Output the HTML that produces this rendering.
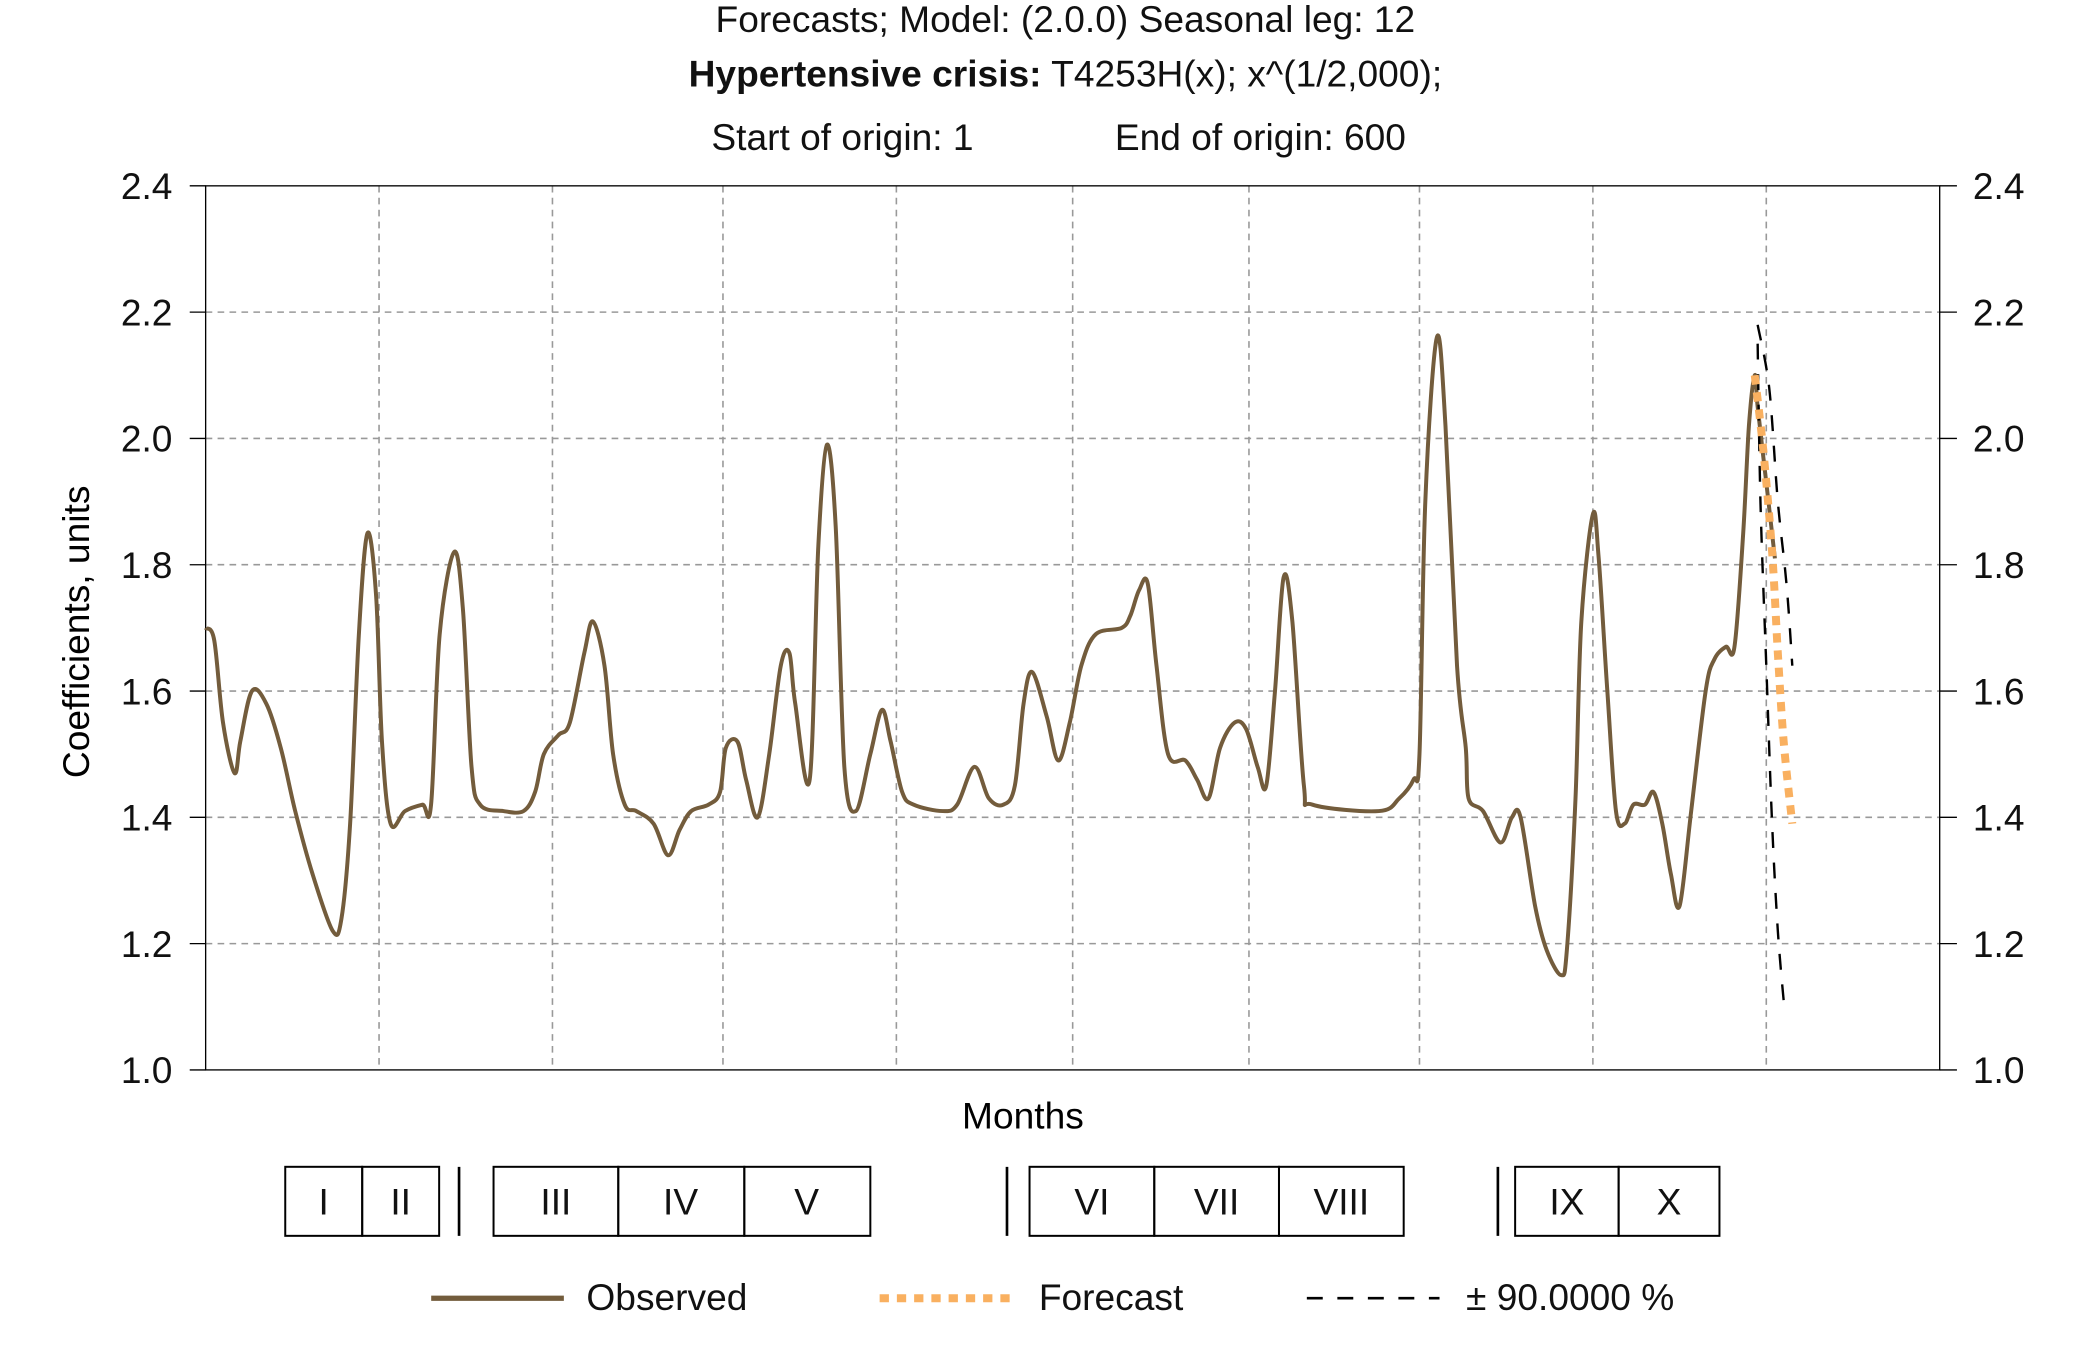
<!DOCTYPE html>
<html><head><meta charset="utf-8">
<style>
html,body{margin:0;padding:0;background:#fff;}
svg{display:block;font-family:"Liberation Sans",sans-serif;}
</style></head>
<body>
<svg id="chart" width="2079" height="1350" viewBox="0 0 1567 1017" preserveAspectRatio="none" xmlns="http://www.w3.org/2000/svg">
  <g font-size="28" text-anchor="middle" fill="#111">
    <text x="803" y="24">Forecasts; Model: (2.0.0) Seasonal leg: 12</text>
    <text x="803" y="65"><tspan font-weight="bold">Hypertensive crisis:</tspan> T4253H(x); x^(1/2,000);</text>
    <text x="635" y="113">Start of origin: 1</text>
    <text x="950" y="113">End of origin: 600</text>
  </g>
  <g id="grid"></g>
  <g id="axes"></g>
  <g id="series"></g>
  <text x="0" y="0" font-size="28" text-anchor="middle" transform="translate(67,476) rotate(-90)">Coefficients, units</text>
  <text x="771" y="850" font-size="28" text-anchor="middle">Months</text>
  <g font-size="28" text-anchor="middle" fill="none" stroke="#000" stroke-width="1.5">
    <rect x="215" y="879" width="58" height="52"/>
    <rect x="273" y="879" width="58" height="52"/>
    <line x1="346" y1="879" x2="346" y2="931" stroke-width="2"/>
    <rect x="372" y="879" width="94" height="52"/>
    <rect x="466" y="879" width="95" height="52"/>
    <rect x="561" y="879" width="95" height="52"/>
    <line x1="759" y1="879" x2="759" y2="931" stroke-width="2"/>
    <rect x="776" y="879" width="94" height="52"/>
    <rect x="870" y="879" width="94" height="52"/>
    <rect x="964" y="879" width="94" height="52"/>
    <line x1="1129" y1="879" x2="1129" y2="931" stroke-width="2"/>
    <rect x="1142" y="879" width="78" height="52"/>
    <rect x="1220" y="879" width="76" height="52"/>
    <g fill="#111" stroke="none">
      <text x="244" y="915">I</text><text x="302" y="915">II</text>
      <text x="419" y="915">III</text><text x="513" y="915">IV</text><text x="608" y="915">V</text>
      <text x="823" y="915">VI</text><text x="917" y="915">VII</text><text x="1011" y="915">VIII</text>
      <text x="1181" y="915">IX</text><text x="1258" y="915">X</text>
    </g>
  </g>
  <g font-size="28" fill="#111">
    <g>
      <line x1="325" y1="978" x2="425" y2="978" stroke="#735c3c" stroke-width="4"/>
      <text x="442" y="987">Observed</text>
    </g>
    <g>
      <line x1="663" y1="978" x2="765" y2="978" stroke="#f9b060" stroke-width="6" stroke-dasharray="7,6"/>
      <text x="783" y="987">Forecast</text>
    </g>
    <g>
      <line x1="985" y1="978" x2="1085" y2="978" stroke="#000" stroke-width="2" stroke-dasharray="12,11"/>
      <text x="1105" y="987">± 90.0000 %</text>
    </g>
  </g>
</svg>
<script>
const obsT = [0,3,6,10,12,16,21,26,31,37,44,47,50,53,56,59,61,64,69,75,78,81,86,89,92,95,103,110,114,117,122,126,131,134,138,141,145,149,155,160,164,168,174,178,180,184,187,191,195,199,202,204,209,212,215,218,221,225,230,234,237,241,245,255,260,266,271,276,280,283,286,291,295,299,303,308,317,320,323,326,329,333,339,343,347,351,356,360,364,367,370,373,376,380,383,406,413,418,420,422,426,429,433,436,437,442,448,452,455,460,464,469,471,474,476,480,482,485,488,491,494,498,501,504,507,510,514,519,522,526,529,532,534,536,537,540,543];
const obsV = [1.70,1.68,1.55,1.47,1.52,1.60,1.58,1.51,1.41,1.31,1.22,1.24,1.39,1.69,1.85,1.75,1.52,1.39,1.41,1.42,1.42,1.69,1.82,1.73,1.48,1.42,1.41,1.41,1.44,1.50,1.53,1.55,1.66,1.71,1.64,1.50,1.42,1.41,1.39,1.34,1.38,1.41,1.42,1.44,1.51,1.52,1.46,1.40,1.50,1.64,1.66,1.58,1.46,1.83,1.99,1.86,1.48,1.41,1.50,1.57,1.52,1.44,1.42,1.41,1.42,1.48,1.43,1.42,1.45,1.58,1.63,1.56,1.49,1.55,1.64,1.69,1.70,1.72,1.76,1.77,1.64,1.50,1.49,1.46,1.43,1.51,1.55,1.54,1.48,1.45,1.60,1.78,1.71,1.45,1.42,1.41,1.43,1.46,1.50,1.90,2.16,2.02,1.64,1.51,1.43,1.41,1.36,1.40,1.40,1.26,1.19,1.15,1.19,1.43,1.71,1.88,1.81,1.60,1.41,1.39,1.42,1.42,1.44,1.39,1.31,1.26,1.41,1.60,1.65,1.67,1.67,1.85,2.02,2.10,2.05,1.93,1.81];
const fcT = [536,539,542,544,546,549];
const fcV = [2.10,1.98,1.82,1.66,1.52,1.39];
const upT = [537,541,544,547,549];
const upV = [2.18,2.08,1.90,1.77,1.64];
const loT = [537,538,540,542,544,546];
const loV = [2.15,1.90,1.64,1.39,1.22,1.11];
const yTicks = [1.0,1.2,1.4,1.6,1.8,2.0,2.2,2.4];
const yTickLabels = ["1.0","1.2","1.4","1.6","1.8","2.0","2.2","2.4"];
const vGridT = [60,120,179,239,300,361,420,480,540];

const L=155,R=1462,T=140,B=806;
function xs(t){return L+t*(R-L)/600;}
function ys(v){return B-(v-1.0)*(B-T)/1.4;}
const NS='http://www.w3.org/2000/svg';
function mk(tag,attrs,parent){const e=document.createElementNS(NS,tag);for(const k in attrs)e.setAttribute(k,attrs[k]);parent.appendChild(e);return e;}
function smooth(ts,vs){
  const p=ts.map((t,i)=>[xs(t),ys(vs[i])]);
  let d='M'+p[0][0].toFixed(1)+','+p[0][1].toFixed(1);
  for(let i=0;i<p.length-1;i++){
    const p0=p[Math.max(0,i-1)],p1=p[i],p2=p[i+1],p3=p[Math.min(p.length-1,i+2)];
    const c1=[p1[0]+(p2[0]-p0[0])/6,p1[1]+(p2[1]-p0[1])/6];
    const c2=[p2[0]-(p3[0]-p1[0])/6,p2[1]-(p3[1]-p1[1])/6];
    d+='C'+c1[0].toFixed(1)+','+c1[1].toFixed(1)+' '+c2[0].toFixed(1)+','+c2[1].toFixed(1)+' '+p2[0].toFixed(1)+','+p2[1].toFixed(1);
  }
  return d;
}
const grid=document.getElementById('grid'),axes=document.getElementById('axes'),series=document.getElementById('series');
yTicks.forEach((v,i)=>{
  if(v>1.0&&v<2.4){
    const g=mk('line',{x1:L,x2:R,y1:ys(v),y2:ys(v),stroke:'#999','stroke-width':1.2,'stroke-dasharray':'5,4'},grid);
    
    
  }
  const tl=mk('line',{x1:L-12,x2:L,y1:ys(v),y2:ys(v),stroke:'#000','stroke-width':1},axes);
  
  
  const tr=mk('line',{x1:R,x2:R+13,y1:ys(v),y2:ys(v),stroke:'#000','stroke-width':1},axes);
  
  
  const a=mk('text',{x:130,y:ys(v)+10,'font-size':28,'text-anchor':'end',fill:'#111'},axes);
  a.textContent=yTickLabels[i];
  
  
  const b=mk('text',{x:1487,y:ys(v)+10,'font-size':28,'text-anchor':'start',fill:'#111'},axes);
  b.textContent=yTickLabels[i];
  
  
});
vGridT.forEach(t=>{
  const g=mk('line',{x1:xs(t),x2:xs(t),y1:T,y2:B,stroke:'#999','stroke-width':1.2,'stroke-dasharray':'5,4'},grid);
  
  
});
const fr=mk('rect',{x:L,y:T,width:R-L,height:B-T,fill:'none',stroke:'#000','stroke-width':1},axes);


const obs=mk('path',{d:smooth(obsT,obsV),fill:'none',stroke:'#735c3c','stroke-width':3},series);


const up=mk('path',{d:smooth(upT,upV),fill:'none',stroke:'#000','stroke-width':1.8,'stroke-dasharray':'12,11'},series);


const lo=mk('path',{d:smooth(loT,loV),fill:'none',stroke:'#000','stroke-width':1.8,'stroke-dasharray':'12,11'},series);


const fc=mk('path',{d:smooth(fcT,fcV),fill:'none',stroke:'#f9b060','stroke-width':6,'stroke-dasharray':'7,6'},series);


</script>
</body></html>
